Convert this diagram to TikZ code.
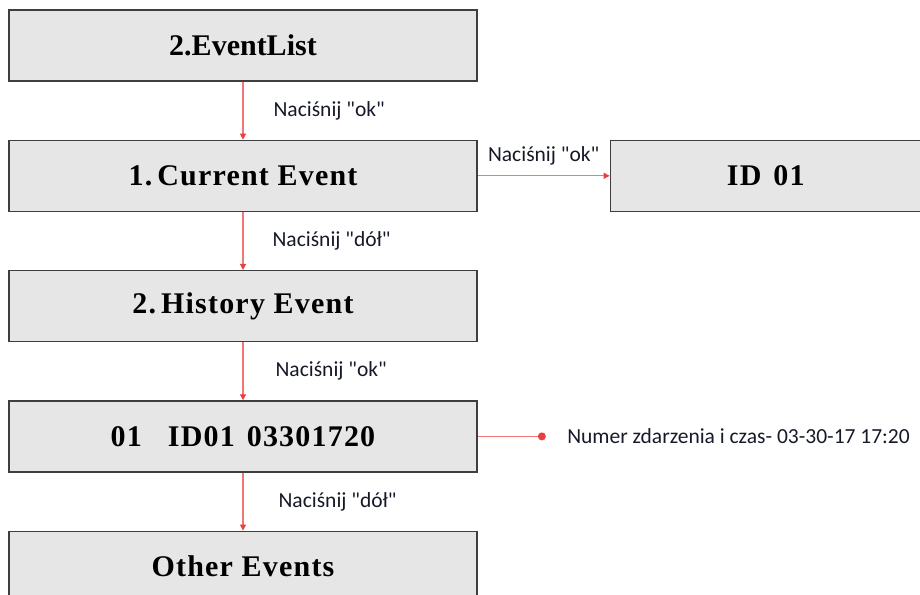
\documentclass[tikz,border=0pt]{standalone}
\usepackage{fontspec}
\setmainfont{Liberation Serif}
\newfontfamily\widefont[LetterSpace=4]{Liberation Serif}
\newfontfamily\presfont{Carlito}
\usetikzlibrary{arrows.meta,positioning}
\definecolor{boxfill}{RGB}{231,230,230}
\definecolor{boxline}{RGB}{62,62,62}
\definecolor{flowred}{RGB}{232,64,64}
\definecolor{flowpink}{RGB}{240,120,120}
\definecolor{labelink}{RGB}{22,26,40}

\begin{document}
\begin{tikzpicture}[x=1pt,y=1pt,node distance=58pt,
    menubox/.style={draw=boxline,line width=1.3pt,fill=boxfill,
      minimum width=468pt,minimum height=71pt,inner sep=0pt,
      font=\fontsize{30}{34}\selectfont\bfseries},
    widebox/.style={menubox,font=\widefont\fontsize{30}{34}\selectfont\bfseries},
    flow/.style={draw=flowpink,line width=1.2pt,
      -{Triangle[length=6pt,width=6pt,color=flowred]}},
    presslabel/.style={font=\presfont\fontsize{21.5}{25}\selectfont,
      text=labelink,inner sep=0pt}]
  \clip (0,0) rectangle (920,-594);
  % menu column
  \node[menubox] (eventlist) at (243,-45.5) {2.EventList};
  \node[widebox,below=of eventlist] (current) {1.\,Current Event};
  \node[widebox,below=of current] (history) {2.\,History Event};
  \node[widebox,below=of history] (entry) {01\hspace{26pt}ID01\hspace{12pt}03301720};
  \node[widebox,below=of entry] (others) {Other Events};
  % side boxes
  \node[widebox,minimum width=311pt,right=132pt of current] (idbox) {ID\hspace{12pt}01};
  \node[circle,fill=flowred,inner sep=0pt,minimum size=8pt,right=60pt of entry] (stamp) {};
  \node[presslabel,right=21pt of stamp] (stamptext) {Numer zdarzenia i czas- 03-30-17 17:20};

  \draw[flow] (eventlist) -- node[presslabel,right=30pt] {Naciśnij "ok"} (current);
  \draw[flow] (current) -- node[presslabel,right=29pt] {Naciśnij "dół"} (history);
  \draw[flow] (history) -- node[presslabel,right=32pt] {Naciśnij "ok"} (entry);
  \draw[flow] (entry) -- node[presslabel,right=35pt] {Naciśnij "dół"} (others);
  \draw[flow] (current) -- node[presslabel,above=10pt] {Naciśnij "ok"} (idbox);
  \draw[draw=flowpink,line width=1.2pt] (entry) -- (stamp);
\end{tikzpicture}
\end{document}
